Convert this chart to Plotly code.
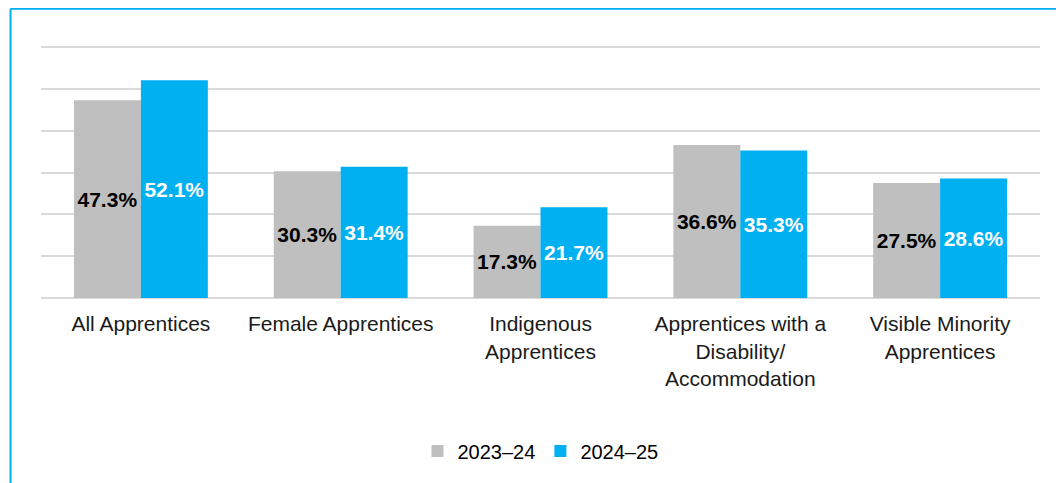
import plotly.graph_objects as go

categories = ["All Apprentices", "Female Apprentices", "Indigenous<br>Apprentices",
              "Apprentices with a<br>Disability/<br>Accommodation", "Visible Minority<br>Apprentices"]
series_names = ["2023\u201324", "2024\u201325"]
values_2023 = [47.3, 30.3, 17.3, 36.6, 27.5]
values_2024 = [52.1, 31.4, 21.7, 35.3, 28.6]
grid_values = [10, 20, 30, 40, 50, 60]

colors = ["#bfbfbf", "#00b0f0"]
text_colors = ["#000000", "#ffffff"]

fig = go.Figure()
for name, vals, c, tc in zip(series_names, [values_2023, values_2024], colors, text_colors):
    fig.add_trace(go.Bar(
        x=categories, y=vals, name=name,
        marker=dict(color=c, line=dict(width=0)),
        text=[f"{v:.1f}%" for v in vals],
        textposition="inside", insidetextanchor="middle", textangle=0,
        constraintext="none",
        textfont=dict(family="Liberation Sans, Arial", size=21, color=tc, weight="bold"),
        hoverinfo="skip",
    ))

# page body has an 8px margin, so the figure is shifted by 8px
fig.update_layout(
    width=1056, height=475,
    margin=dict(l=33, r=24, t=35, b=185, autoexpand=False),
    paper_bgcolor="white", plot_bgcolor="white",
    barmode="group", bargap=0.33, bargroupgap=0,
    font=dict(family="Liberation Sans, Arial", size=20, color="#000000"),
    xaxis=dict(showgrid=False, showline=False, ticks="outside", ticklen=7, tickcolor="rgba(0,0,0,0)",
               tickfont=dict(size=21, color="#1a1a1a"), automargin=False),
    yaxis=dict(range=[0, 61], tickvals=grid_values, showticklabels=False, showgrid=True,
               gridcolor="#d9d9d9", gridwidth=2, zeroline=True, zerolinecolor="#d9d9d9",
               zerolinewidth=2, showline=False, automargin=False),
    legend=dict(orientation="h", x=0.5, xanchor="center", y=-0.60, yanchor="middle",
                font=dict(size=20, color="#000000"), itemwidth=30, traceorder="normal"),
    showlegend=True,
    shapes=[
        dict(type="line", xref="paper", yref="paper", x0=-0.0305, x1=-0.0305, y0=-0.76, y1=1.134,
             line=dict(color="#00b0f0", width=2)),
        dict(type="line", xref="paper", yref="paper", x0=-0.0305, x1=1.03, y0=1.134, y1=1.134,
             line=dict(color="#00b0f0", width=2)),
    ],
)

fig.write_html("out.html")
